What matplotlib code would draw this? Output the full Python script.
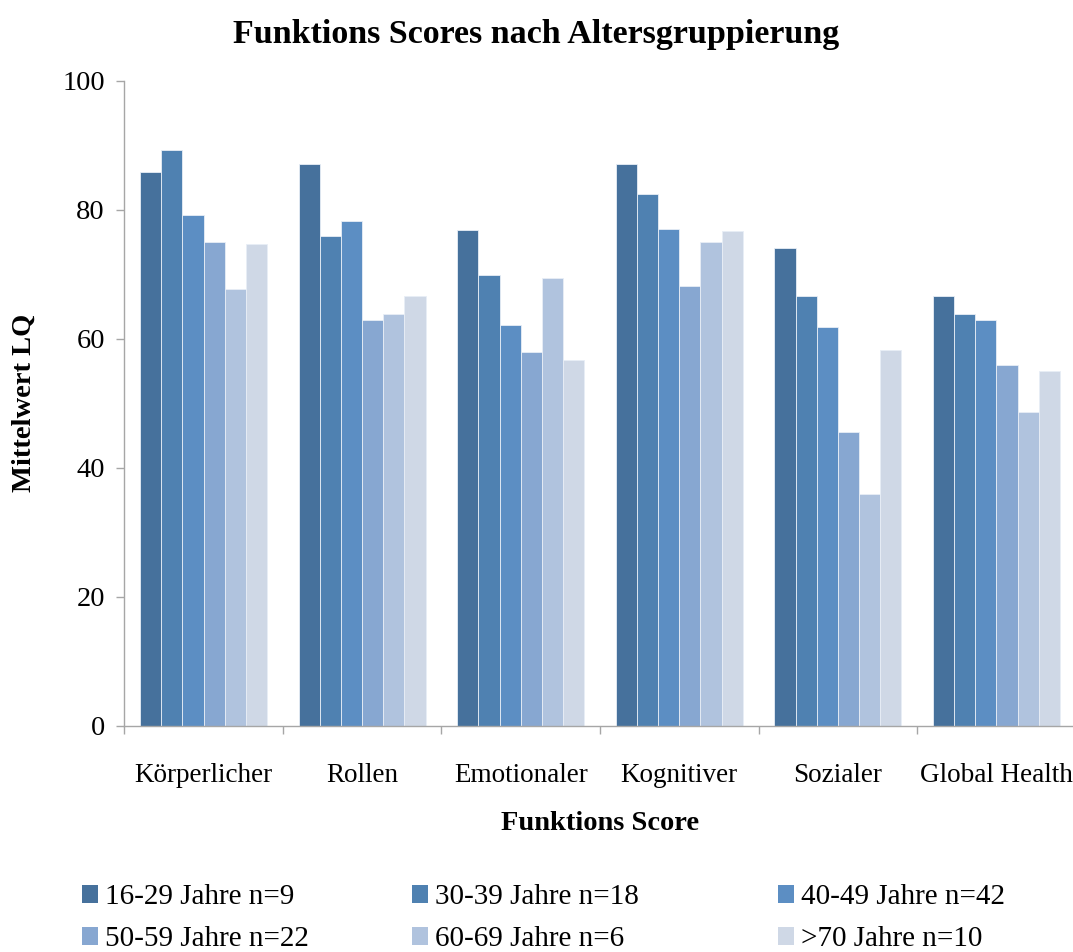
import numpy as np
import matplotlib
matplotlib.use('Agg')
import matplotlib.pyplot as plt
from matplotlib.patches import Patch

plt.rcParams['font.family'] = ['Liberation Serif', 'DejaVu Serif']

categories = ['Körperlicher', 'Rollen', 'Emotionaler', 'Kognitiver', 'Sozialer', 'Global Health']
groups = ['16-29 Jahre n=9', '30-39 Jahre n=18', '40-49 Jahre n=42',
          '50-59 Jahre n=22', '60-69 Jahre n=6', '>70 Jahre n=10']

# Mittelwerte je Altersgruppe
g16_29 = [85.9, 87.1, 76.9, 87.1, 74.1, 66.7]
g30_39 = [89.3, 76.0, 69.9, 82.4, 66.7, 63.9]
g40_49 = [79.2, 78.2, 62.1, 77.0, 61.9, 62.9]
g50_59 = [75.0, 62.9, 57.9, 68.2, 45.5, 56.0]
g60_69 = [67.8, 63.9, 69.5, 75.0, 36.0, 48.6]
g70 = [74.7, 66.6, 56.7, 76.7, 58.3, 55.0]
values = [g16_29, g30_39, g40_49, g50_59, g60_69, g70]

colors = ['#46719C', '#4F81B1', '#5C8EC3', '#87A7D1', '#B0C3DE', '#CFD8E6']

fig = plt.figure(figsize=(10.73, 9.52), dpi=100)
ax = fig.add_axes([0.1158, 0.2374, 0.8868, 0.6778])

x = np.arange(len(categories))
w = 0.8 / len(groups)
for i, vals in enumerate(values):
    ax.bar(x - 0.4 + w * (i + 0.5), vals, w, color=colors[i],
           edgecolor='#E8EEF6', linewidth=0.6)

ax.set_xlim(-0.5, len(categories) - 0.5)
ax.set_ylim(0, 100)
ax.set_yticks(range(0, 101, 20))

ax.set_xticks(x)
ax.set_xticklabels(categories)
ax.set_xticks(np.arange(-0.5, len(categories), 1), minor=True)
ax.tick_params(axis='x', which='major', length=0, pad=27, labelsize=19.5)
ax.tick_params(axis='x', which='minor', length=6, color='#A6A6A6', width=1)
ax.tick_params(axis='y', length=6, color='#A6A6A6', width=1, labelsize=20.5, pad=8)

for s in ['top', 'right']:
    ax.spines[s].set_visible(False)
for s in ['left', 'bottom']:
    ax.spines[s].set_color('#A6A6A6')
    ax.spines[s].set_linewidth(1)

ax.set_xlabel('Funktions Score', fontsize=20.5, fontweight='bold', labelpad=16)
ax.set_ylabel('Mittelwert LQ', fontsize=20.5, fontweight='bold', labelpad=18)
fig.text(0.5, 0.964, 'Funktions Scores nach Altersgruppierung', ha='center', va='center',
         fontsize=24.5, fontweight='bold')

# Legende: drei Spalten, zeilenweise gefuellt
col_x = [82 / 1073, 412 / 1073, 778 / 1073]
for j in range(3):
    idx = [j, j + 3]
    handles = [Patch(facecolor=colors[i], edgecolor='none') for i in idx]
    labels = [groups[i] for i in idx]
    fig.legend(handles, labels, loc='upper left', bbox_to_anchor=(col_x[j], 0.071),
               ncol=1, frameon=False, fontsize=21, handlelength=0.55, handleheight=0.55,
               handletextpad=0.25, labelspacing=0.55, borderaxespad=0, borderpad=0)

fig.savefig('out.png', dpi=100)
